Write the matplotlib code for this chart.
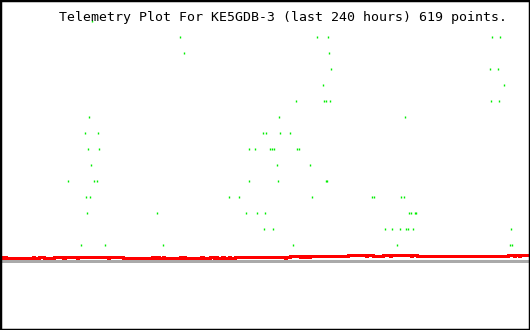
# Telemetry plot for KE5GDB-3, last 240 hours
import matplotlib
matplotlib.use('Agg')
import matplotlib.pyplot as plt

title = 'Telemetry Plot For KE5GDB-3 (last 240 hours) 619 points.'

# green channel: hours into the window and the level it reported
green_hours = [41.7,
               81.7, 143.5, 148.5, 222.8, 226.4,
               83.3, 149.0,
               149.9, 221.9, 225.5,
               146.3, 228.2,
               134.0, 146.7, 147.6, 149.4, 222.3, 226.0,
               40.3, 126.3, 183.4,
               38.5, 44.4, 119.1, 120.5, 126.8, 131.3,
               39.8, 44.8, 112.8, 115.5, 122.3, 123.2, 124.1, 134.5, 135.4,
               41.2, 125.4, 140.4,
               30.8, 42.6, 43.9, 112.8, 125.9, 147.6, 148.1,
               38.9, 40.8, 103.7, 108.2, 141.3, 168.5, 169.4, 181.6, 182.9,
               39.4, 71.1, 111.4, 116.4, 120.0, 185.2, 186.1, 187.9, 188.4,
               119.5, 123.6, 174.3, 177.5, 181.1, 183.8, 184.7, 187.0, 231.4,
               36.7, 47.5, 73.8, 132.7, 179.8, 230.9, 231.8]
green_level = ([15] +
               [14] * 5 +
               [13] * 2 +
               [12] * 3 +
               [11] * 2 +
               [10] * 6 +
               [9] * 3 +
               [8] * 6 +
               [7] * 9 +
               [6] * 3 +
               [5] * 7 +
               [4] * 9 +
               [3] * 9 +
               [2] * 9 +
               [1] * 7)

# red channel, stepped
A, B, C, D = 0.1875, 0.25, 0.3125, 0.375
red_hours = [0, 0.5, 0.9, 2.3, 2.7, 14.9, 15.4, 17.7, 19.9, 24.5, 28.5, 29.4,
             34.9, 35.3, 48.9, 49.4, 55.7, 68.8, 70.2, 70.6, 72.0, 73.8, 74.3,
             81.5, 82.0, 83.3, 83.8, 91.0, 91.9, 95.1, 96.9, 97.8, 98.3, 100.5,
             101.4, 103.7, 104.1, 106.4, 129.1, 129.5, 131.3, 135.8, 136.3,
             137.7, 138.6, 139.5, 140.4, 157.6, 165.7, 166.2, 168.9, 173.4,
             176.6, 177.0, 186.1, 186.6, 188.8, 230.0, 232.7, 233.2, 235.0,
             235.5, 240]
red_level = [A, B, A, B, A, B, A, B, A, B, A, B,
             A, B, A, B, A, B, A, B, A, B, A,
             B, A, B, A, B, A, B, A, B, A, B,
             A, B, A, B, A, B, C, B, C,
             B, C, B, C, D, C, D, C, D,
             C, D, C, D, C, D, C, D, C,
             D, D]

fig = plt.figure(figsize=(5.3, 3.3), dpi=100)
ax = fig.add_axes([0, 0, 1, 1])

# baseline
ax.axhline(0, color='#aaaaaa', lw=1.9, antialiased=False)

ax.step(red_hours, red_level, where='post', color='#ff0000', lw=2.0,
        antialiased=False)

ax.plot(green_hours, green_level, ls='none', marker='|', ms=1.8, mew=1.0,
        color='#00ee00', antialiased=False)

ax.set_xlim(0, 240)
ax.set_ylim(-4.3125, 16.3125)
ax.set_xticks([])
ax.set_yticks([])
for s in ax.spines.values():
    s.set_color('black')
    s.set_linewidth(2.5)

ax.text(0.534, 0.948, title, transform=ax.transAxes, ha='center', va='center',
        family='DejaVu Sans Mono', fontsize=9.5, color='black')

fig.savefig('out.png', dpi=100)
